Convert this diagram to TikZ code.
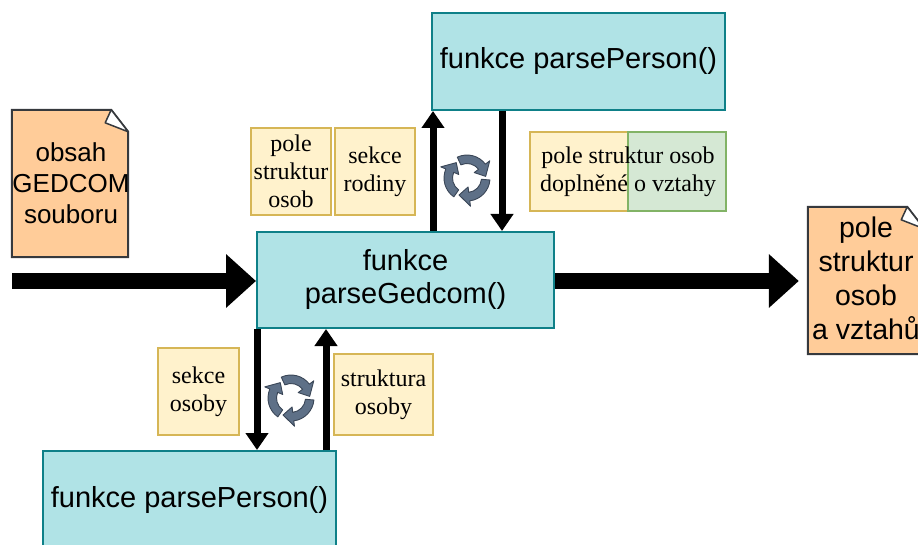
\documentclass[tikz,border=0pt]{standalone}
\usepackage{fontspec}
\setmainfont{Liberation Sans}
\newfontfamily\serifface{Liberation Serif}
\usetikzlibrary{arrows.meta}
\definecolor{cyanfill}{HTML}{B0E3E6}
\definecolor{cyanline}{HTML}{0E8088}
\definecolor{yelfill}{HTML}{FFF2CC}
\definecolor{yelline}{HTML}{D6B656}
\definecolor{grnfill}{HTML}{D5E8D4}
\definecolor{grnline}{HTML}{82B366}
\definecolor{orgfill}{HTML}{FFCC99}
\definecolor{orgline}{HTML}{36393D}
\definecolor{iconfill}{HTML}{5E7087}
\definecolor{iconline}{HTML}{3A4657}
\begin{document}
\begin{tikzpicture}[x=1pt,y=1pt,
  func/.style={draw=cyanline, fill=cyanfill, line width=2pt, minimum width=293pt,
    minimum height=97pt, inner sep=0pt, align=center, font=\fontsize{29}{33}\selectfont},
  ylab/.style={draw=yelline, fill=yelfill, line width=2pt, inner sep=0pt, align=center,
    font=\serifface\fontsize{24}{28}\selectfont},
  glab/.style={draw=grnline, fill=grnfill, line width=2pt, inner sep=0pt},
  labtext/.style={inner sep=0pt, align=center, font=\serifface\fontsize{24}{28}\selectfont},
  docarea/.style={minimum width=116pt, minimum height=147pt, inner sep=0pt},
  doctext/.style={align=center, inner sep=0pt},
  docshape/.style={fill=orgfill, draw=orgline, line width=2pt, line join=miter},
  fold/.style={fill=white, draw=orgline, line width=1.5pt, line join=round},
  bigarrow/.style={line width=16pt, -{Triangle[length=30pt,width=52pt]}},
  smallarrow/.style={line width=7pt, -{Triangle[length=17pt,width=22pt]}},
  cyc/.pic={
    \foreach \s in {115,-5,-125}{
      \filldraw[fill=iconfill, draw=iconline, line width=0.9pt, line join=round]
        (\s:23pt) arc[start angle=\s, end angle=\s-78, radius=23pt]
        -- ({\s-78}:28.5pt) -- ({\s-110}:18.75pt) -- ({\s-78}:9pt) -- ({\s-78}:14.5pt)
        arc[start angle=\s-78, end angle=\s, radius=14.5pt] -- cycle;
    }
  }
]
\useasboundingbox (0,0) rectangle (918,-545);
\clip (0,0) rectangle (918,-545);

% function boxes
\node[func] (T) at (578.5,-61.5) {funkce parsePerson()};
\node[func, minimum width=297pt, minimum height=96pt] (M) at (405.5,-280) {funkce\\parseGedcom()};
\node[func] (B) at (189.5,-499.5) {funkce parsePerson()};

% left document
\node[docarea] (L) at (70,-183.5) {};
\filldraw[docshape] (L.south west) -- (L.north west) -- ([xshift=-17pt]L.north east)
  -- ([yshift=-22pt]L.north east) -- (L.south east) -- cycle;
\filldraw[fold] ([xshift=-17pt]L.north east) -- ([xshift=-23pt,yshift=-13pt]L.north east)
  -- ([yshift=-22pt]L.north east) -- cycle;
\node[doctext, font=\fontsize{26}{31}\selectfont] (Lt) at ([xshift=1pt]L.center) {obsah\\GEDCOM\\souboru};

% right document
\node[docarea] (R) at (866,-280.5) {};
\filldraw[docshape] (R.south west) -- (R.north west) -- ([xshift=-17pt]R.north east)
  -- ([yshift=-22pt]R.north east) -- (R.south east) -- cycle;
\filldraw[fold] ([xshift=-17pt]R.north east) -- ([xshift=-23pt,yshift=-13pt]R.north east)
  -- ([yshift=-22pt]R.north east) -- cycle;
\node[doctext, font=\fontsize{28.5}{34}\selectfont] (Rt) at ([yshift=2pt]R.center) {pole\\struktur\\osob\\a vztahů};

% yellow / green labels
\node[ylab, minimum width=80pt, minimum height=87pt] (Y1) at (291,-171.5) {pole\\struktur\\osob};
\node[ylab, minimum width=80pt, minimum height=87pt] (Y2) at (375,-171.5) {sekce\\rodiny};
\node[ylab, minimum width=98pt, minimum height=79pt] (Y3a) at (579,-171.5) {};
\node[glab, minimum width=98pt, minimum height=79pt] (Y3b) at (677,-171.5) {};
\node[labtext] (Y3t) at ([xshift=-1pt]Y3a.east) {pole struktur osob\\doplněné o vztahy};
\node[ylab, minimum width=81pt, minimum height=87pt] (Y4) at (198.5,-391.5) {sekce\\osoby};
\node[ylab, minimum width=99pt, minimum height=81pt] (Y5) at (383.5,-394.5) {struktura\\osoby};

% big arrows
\coordinate (inStart) at (12,-281);
\draw[bigarrow] (inStart) -- (inStart -| M.west);
\draw[bigarrow, shorten >=9pt] (M.east |- inStart) -- (R.west |- inStart);

% small arrows
\coordinate (xUp) at (433,0);
\coordinate (xDown) at (502,0);
\coordinate (xDnB) at (257,0);
\coordinate (xUpB) at (326,0);
\draw[smallarrow] (M.north -| xUp) -- (T.south -| xUp);
\draw[smallarrow] (T.south -| xDown) -- (M.north -| xDown);
\draw[smallarrow] (M.south -| xDnB) -- (B.north -| xDnB);
\draw[smallarrow] (B.north -| xUpB) -- (M.south -| xUpB);

% cycle icons
\pic at (467,-178) {cyc};
\pic at (291,-398) {cyc};
\end{tikzpicture}
\end{document}
